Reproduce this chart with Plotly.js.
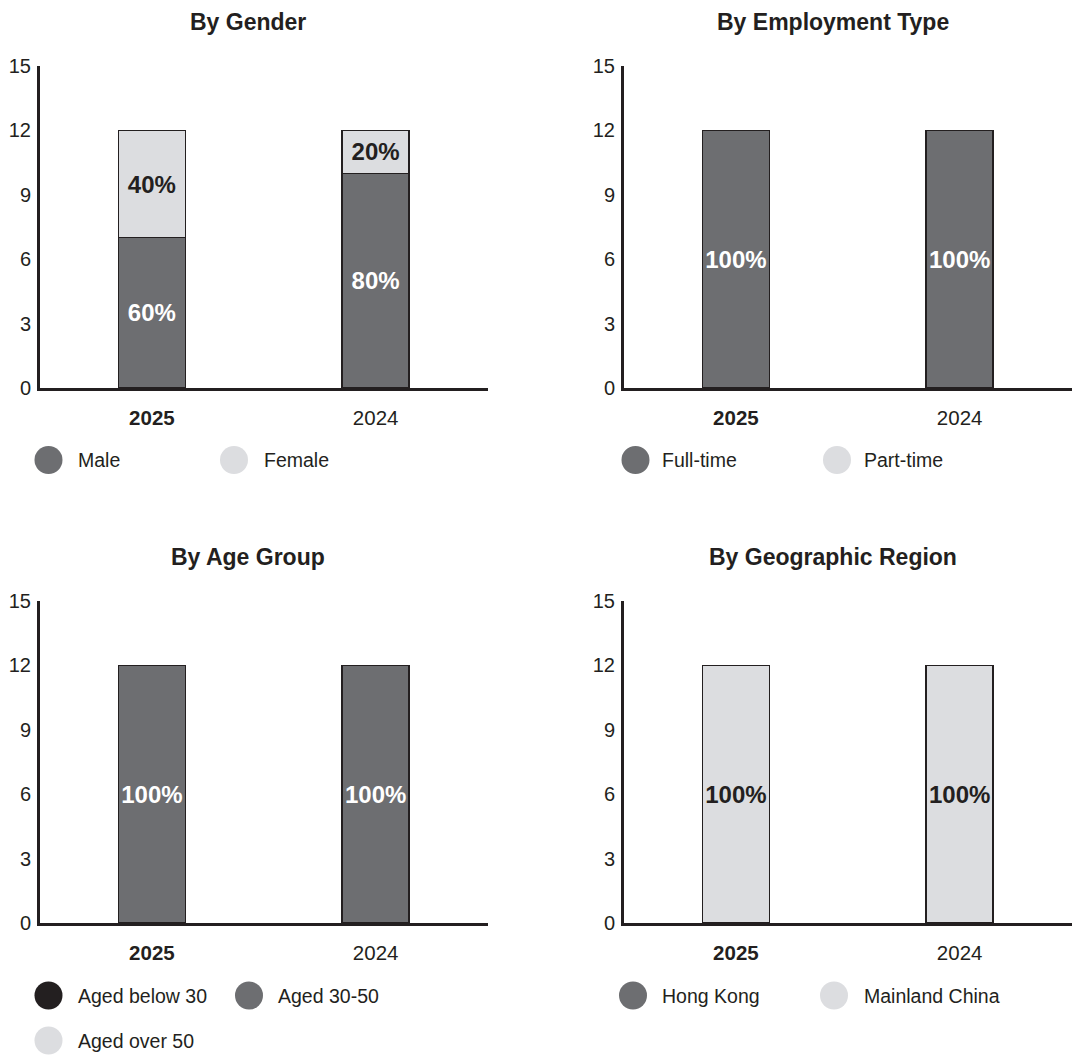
<!DOCTYPE html>
<html>
<head>
<meta charset="utf-8">
<script src="https://cdn.plot.ly/plotly-3.0.1.min.js"></script>
<style>html,body{margin:0;padding:0;background:#fff;}#chart{width:1079px;height:1055px;}</style>
</head>
<body>
<div id="chart"></div>
<script>
// ---- data ----
const categories = ['2025', '2024'];
const panelTitles = ['By Gender', 'By Employment Type', 'By Age Group', 'By Geographic Region'];
const yTicks = [0, 3, 6, 9, 12, 15];

const genderNames = ['Male', 'Female'];
const genderMale = [7, 10];
const genderFemale = [5, 2];
const genderMaleLabels = ['60%', '80%'];
const genderFemaleLabels = ['40%', '20%'];

const employmentNames = ['Full-time', 'Part-time'];
const employmentFull = [12, 12];
const employmentPart = [0, 0];
const employmentFullLabels = ['100%', '100%'];
const employmentPartLabels = ['', ''];

const ageNames = ['Aged below 30', 'Aged 30-50', 'Aged over 50'];
const ageBelow30 = [0, 0];
const age30to50 = [12, 12];
const ageOver50 = [0, 0];
const ageBelow30Labels = ['', ''];
const age30to50Labels = ['100%', '100%'];
const ageOver50Labels = ['', ''];

const regionNames = ['Hong Kong', 'Mainland China'];
const regionHK = [0, 0];
const regionMainland = [12, 12];
const regionHKLabels = ['', ''];
const regionMainlandLabels = ['100%', '100%'];

// ---- styles ----
const W = 1079, H = 1055;
const BLACK = '#231f20', DARK = '#6d6e71', LIGHT = '#dcdde0';
const FONT = 'Liberation Sans, Arial, Helvetica, sans-serif';
const px = v => v / W;
const py = v => 1 - v / H;

const panels = [
  {ax: '', series: [
    {name: genderNames[0], y: genderMale, text: genderMaleLabels, color: DARK, tc: '#ffffff'},
    {name: genderNames[1], y: genderFemale, text: genderFemaleLabels, color: LIGHT, tc: BLACK}]},
  {ax: '2', series: [
    {name: employmentNames[0], y: employmentFull, text: employmentFullLabels, color: DARK, tc: '#ffffff'},
    {name: employmentNames[1], y: employmentPart, text: employmentPartLabels, color: LIGHT, tc: BLACK}]},
  {ax: '3', series: [
    {name: ageNames[0], y: ageBelow30, text: ageBelow30Labels, color: BLACK, tc: '#ffffff'},
    {name: ageNames[1], y: age30to50, text: age30to50Labels, color: DARK, tc: '#ffffff'},
    {name: ageNames[2], y: ageOver50, text: ageOver50Labels, color: LIGHT, tc: BLACK}]},
  {ax: '4', series: [
    {name: regionNames[0], y: regionHK, text: regionHKLabels, color: DARK, tc: '#ffffff'},
    {name: regionNames[1], y: regionMainland, text: regionMainlandLabels, color: LIGHT, tc: BLACK}]}
];

// layout geometry (pixels)
const geo = [
  {x0: 40, x1: 487.5, yb: 388, yt: 66, titleX: 248, titleY: 22,
   legend: [[48.5, 460, 76], [234, 460, 262]]},
  {x0: 624, x1: 1071.5, yb: 388, yt: 66, titleX: 833, titleY: 22,
   legend: [[635.5, 460, 660], [837, 460, 862]]},
  {x0: 40, x1: 487.5, yb: 923, yt: 601, titleX: 248, titleY: 557,
   legend: [[48.5, 995.5, 76], [249, 995.5, 276], [48.5, 1040.5, 76]]},
  {x0: 624, x1: 1071.5, yb: 923, yt: 601, titleX: 833, titleY: 557,
   legend: [[633, 995.5, 660], [834, 995.5, 862]]}
];

const tickText = categories.map((c, i) => i === 0 ? '<b>' + c + '</b>' : c);

const traces = [];
const layout = {
  width: W, height: H,
  margin: {l: 0, r: 0, t: 0, b: 0},
  paper_bgcolor: '#ffffff', plot_bgcolor: '#ffffff',
  barmode: 'stack',
  showlegend: false,
  font: {family: FONT, color: BLACK},
  annotations: [], shapes: []
};

panels.forEach((p, i) => {
  const g = geo[i];
  p.series.forEach(s => {
    traces.push({
      type: 'bar', name: s.name, x: categories, y: s.y,
      xaxis: 'x' + p.ax, yaxis: 'y' + p.ax,
      width: 0.3,
      marker: {color: s.color, line: {color: BLACK, width: 1.5}},
      text: s.text, textposition: 'inside', insidetextanchor: 'middle',
      textangle: 0, constraintext: 'none',
      textfont: {family: FONT, size: 24, color: s.tc, weight: 'bold'},
      hoverinfo: 'skip'
    });
  });
  layout['xaxis' + p.ax] = {
    domain: [px(g.x0), px(g.x1)], anchor: 'y' + p.ax,
    type: 'category', range: [-0.5, 1.5],
    tickmode: 'array', tickvals: categories, ticktext: tickText,
    ticks: '', showgrid: false, zeroline: false,
    showline: true, linecolor: BLACK, linewidth: 3,
    tickfont: {family: FONT, size: 20.5, color: BLACK},
    ticklabelstandoff: 9, fixedrange: true
  };
  layout['yaxis' + p.ax] = {
    domain: [py(g.yb), py(g.yt)], anchor: 'x' + p.ax,
    range: [0, 15], tickmode: 'array', tickvals: yTicks,
    ticks: '', showgrid: false, zeroline: false,
    showline: true, linecolor: BLACK, linewidth: 3,
    tickfont: {family: FONT, size: 20, color: BLACK},
    ticklabelstandoff: 2, fixedrange: true
  };
  layout.annotations.push({
    xref: 'paper', yref: 'paper', x: px(g.titleX), y: py(g.titleY),
    xanchor: 'center', yanchor: 'middle', showarrow: false,
    text: '<b>' + panelTitles[i] + '</b>',
    font: {family: FONT, size: 23, color: BLACK}
  });
  p.series.forEach((s, k) => {
    const L = g.legend[k];
    layout.shapes.push({
      type: 'circle', xref: 'paper', yref: 'paper',
      xsizemode: 'pixel', ysizemode: 'pixel',
      xanchor: px(L[0]), yanchor: py(L[1]),
      x0: -14, x1: 14, y0: -14, y1: 14,
      fillcolor: s.color, line: {width: 0}
    });
    layout.annotations.push({
      xref: 'paper', yref: 'paper', x: px(L[2]), y: py(L[1]),
      xanchor: 'left', yanchor: 'middle', showarrow: false,
      text: s.name, font: {family: FONT, size: 19.5, color: BLACK}
    });
  });
});

Plotly.newPlot('chart', traces, layout, {staticPlot: true, displayModeBar: false});
</script>
</body>
</html>
